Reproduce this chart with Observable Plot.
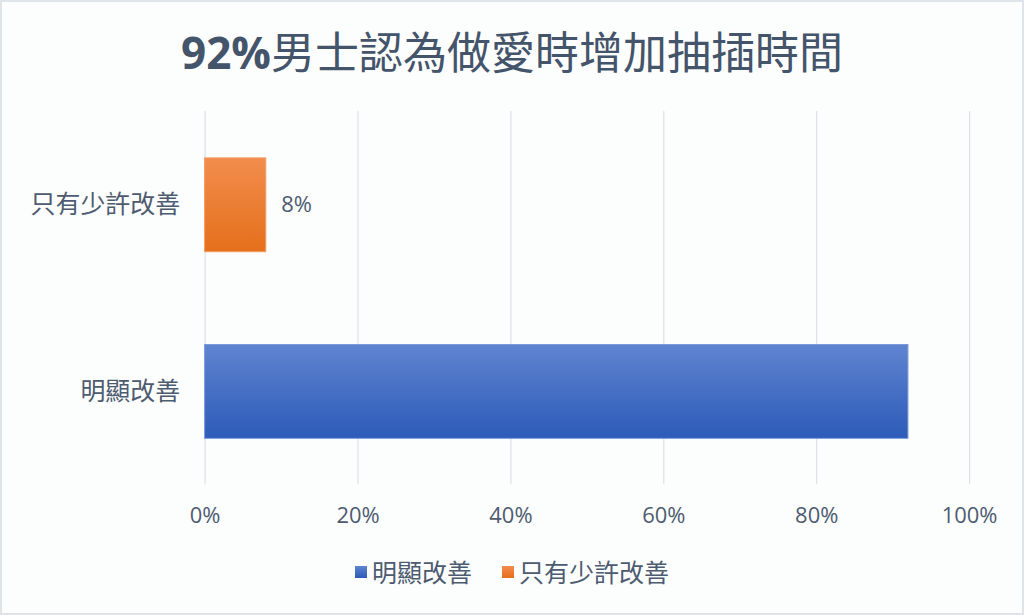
<!DOCTYPE html>
<html>
<head>
<meta charset="utf-8">
<script src="https://cdn.jsdelivr.net/npm/d3@7"></script>
<script src="https://cdn.jsdelivr.net/npm/@observablehq/plot@0.6"></script>
<style>
  html, body { margin: 0; padding: 0; background: #ffffff; }
  #frame {
    position: relative; width: 1024px; height: 615px; box-sizing: border-box;
    border: 2px solid #dfe3ea; background: #fcfdfd; overflow: hidden;
    font-family: "Open Sans", "Noto Sans CJK TC", sans-serif;
  }
  #title {
    position: absolute; left: 0; top: 22px; width: 1020px; text-align: center;
    font-size: 44px; line-height: 56px; color: #44546A;
    font-family: "Open Sans", "Noto Sans CJK TC", sans-serif; white-space: nowrap;
  }
  #title b { font-weight: 700; }
  #chart { position: absolute; left: -2px; top: 106px; }
  #legend {
    position: absolute; left: -2px; top: 553px; width: 1024px; display: flex; justify-content: center;
    gap: 30px; font-size: 25px; line-height: 34px; color: #4d5b70;
  }
  #legend .item { display: flex; align-items: center; }
  #legend .sw { width: 12px; height: 12px; margin-right: 5px; display: inline-block; }
</style>
</head>
<body>
<div id="frame">
  <div id="title"><b>92%</b>男士認為做愛時增加抽插時間</div>
  <div id="chart"></div>
  <div id="legend"></div>
</div>
<script>
// Data
const categories = ["只有少許改善", "明顯改善"];
const values = [0.08, 0.92];
const labelShown = [true, false];
const xTicks = [0, 0.2, 0.4, 0.6, 0.8, 1.0];
const legendOrder = ["明顯改善", "只有少許改善"];
const gradients = {
  "明顯改善": ["#5f84d0", "#2d5bb9"],
  "只有少許改善": ["#f28d4d", "#e56f1b"]
};
const strokes = { "明顯改善": "#7b99d9", "只有少許改善": "#f39a62" };

const data = categories.map((c, i) => ({ cat: c, value: values[i], show: labelShown[i], id: "g" + i }));

const defsMark = () => {
  const ns = "http://www.w3.org/2000/svg";
  const defs = document.createElementNS(ns, "defs");
  data.forEach(d => {
    const g = document.createElementNS(ns, "linearGradient");
    g.setAttribute("id", d.id);
    g.setAttribute("x1", "0"); g.setAttribute("y1", "0");
    g.setAttribute("x2", "0"); g.setAttribute("y2", "1");
    const [c0, c1] = gradients[d.cat];
    [[0, c0], [1, c1]].forEach(([o, c]) => {
      const s = document.createElementNS(ns, "stop");
      s.setAttribute("offset", o); s.setAttribute("stop-color", c);
      g.appendChild(s);
    });
    defs.appendChild(g);
  });
  return defs;
};

const chart = Plot.plot({
  width: 1024,
  height: 436,
  marginTop: 3,
  marginBottom: 59,
  marginLeft: 205,
  marginRight: 53,
  style: { background: "transparent", fontFamily: "'Open Sans', 'Noto Sans CJK TC', sans-serif", color: "#4d5b70" },
  x: { domain: [0, 1], ticks: xTicks, tickFormat: d3.format(".0%") },
  y: { domain: categories, paddingInner: 0.5, paddingOuter: 0.25 },
  color: { type: "identity" },
  marks: [
    defsMark,
    Plot.gridX(xTicks, { stroke: "#dde1e7", strokeOpacity: 1, strokeWidth: 1.2 }),
    Plot.barX(data, {
      x: "value", y: "cat",
      fill: d => `url(#${d.id})`,
      stroke: d => strokes[d.cat], strokeWidth: 1
    }),
    Plot.text(data.filter(d => d.show), {
      x: "value", y: "cat", text: d => d3.format(".0%")(d.value),
      dx: 15, textAnchor: "start", fontSize: 22, fill: "#4d5b70"
    }),
    Plot.axisX(xTicks, { tickSize: 0, tickPadding: 23, fontSize: 22, tickFormat: d3.format(".0%"), label: null }),
    Plot.axisY({ tickSize: 0, tickPadding: 25, fontSize: 25, label: null })
  ]
});
document.getElementById("chart").appendChild(chart);

const legend = document.getElementById("legend");
legendOrder.forEach(c => {
  const item = document.createElement("div");
  item.className = "item";
  const sw = document.createElement("span");
  sw.className = "sw";
  sw.style.background = `linear-gradient(${gradients[c][0]}, ${gradients[c][1]})`;
  const t = document.createElement("span");
  t.textContent = c;
  item.appendChild(sw); item.appendChild(t);
  legend.appendChild(item);
});
</script>
</body>
</html>
